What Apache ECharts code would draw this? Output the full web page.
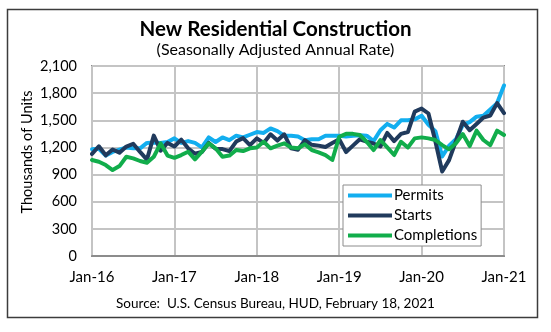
<!DOCTYPE html>
<html>
<head>
<meta charset="utf-8">
<script src="https://cdn.jsdelivr.net/npm/echarts@6/dist/echarts.min.js"></script>
<style>
  html, body { margin: 0; padding: 0; background: #ffffff; }
  #chart { width: 551px; height: 332px; }
</style>
</head>
<body>
<div id="chart"></div>
<script>
// Monthly series, Jan-2016 through Jan-2021 (thousands of units, SAAR)
const years = ['16', '17', '18', '19', '20', '21'];
const monthNames = ['Jan', 'Feb', 'Mar', 'Apr', 'May', 'Jun', 'Jul', 'Aug', 'Sep', 'Oct', 'Nov', 'Dec'];

const permits = [
  1180, 1185, 1110, 1150, 1175, 1200, 1190, 1190, 1250, 1255, 1250, 1260,
  1300, 1250, 1270, 1250, 1200, 1310, 1260, 1310, 1280, 1330, 1310, 1340,
  1370, 1360, 1410, 1380, 1330, 1330, 1320, 1280, 1290, 1290, 1330, 1330,
  1330, 1320, 1330, 1335, 1330, 1270, 1390, 1460, 1420, 1500, 1500, 1510,
  1550, 1450, 1380, 1100, 1220, 1290, 1450, 1480, 1540, 1550, 1620, 1690,
  1885
];
const starts = [
  1128, 1213, 1113, 1177, 1142, 1210, 1240, 1150, 1065, 1330, 1165, 1250,
  1210, 1286, 1190, 1130, 1150, 1250, 1185, 1182, 1160, 1265, 1303, 1225,
  1300, 1250, 1345, 1276, 1345, 1190, 1175, 1280, 1229, 1220, 1205, 1250,
  1290, 1149, 1220, 1290, 1265, 1243, 1210, 1360, 1270, 1350, 1370, 1595,
  1630, 1575, 1269, 934, 1060, 1270, 1484, 1390, 1459, 1530, 1553, 1690,
  1580
];
const completions = [
  1061, 1042, 1005, 950, 994, 1097, 1079, 1050, 1031, 1097, 1245, 1110,
  1085, 1116, 1153, 1068, 1153, 1245, 1190, 1097, 1110, 1171, 1160, 1190,
  1200, 1263, 1190, 1220, 1245, 1200, 1190, 1235, 1171, 1146, 1116, 1061,
  1318, 1350, 1350, 1337, 1263, 1171, 1282, 1200, 1116, 1263, 1200, 1300,
  1311, 1300, 1282, 1226, 1179, 1245, 1348, 1215, 1385, 1282, 1226, 1385,
  1337
];
const yTicks = { min: 0, max: 2100, step: 300 };

// Category labels "Jan-16" ... "Jan-21"
const months = [];
years.forEach((y, i) => {
  monthNames.forEach((m, j) => {
    if (i < years.length - 1 || j === 0) months.push(m + '-' + y);
  });
});

const baseFont = 'Lato, "Open Sans", "DejaVu Sans", sans-serif';
const chart = echarts.init(document.getElementById('chart'), null, { renderer: 'canvas' });

function lineSeries(name, data, color) {
  return {
    name: name,
    type: 'line',
    data: data,
    symbol: 'none',
    smooth: false,
    lineStyle: { color: color, width: 4, join: 'round', cap: 'round' },
    itemStyle: { color: color },
    emphasis: { disabled: true }
  };
}

chart.setOption({
  animation: false,
  backgroundColor: '#ffffff',
  grid: {
    left: 92, top: 66, right: 47, bottom: 76,
    show: true, borderColor: '#8c8c8c', borderWidth: 2, backgroundColor: 'transparent'
  },
  xAxis: {
    type: 'category',
    data: months,
    boundaryGap: false,
    axisLine: { show: true, lineStyle: { color: '#8c8c8c', width: 2 } },
    axisTick: { show: false },
    axisLabel: {
      interval: 11, margin: 14, color: '#000000',
      fontFamily: baseFont, fontSize: 15
    },
    splitLine: { show: true, interval: 11, lineStyle: { color: '#c4c4c4', width: 2 } }
  },
  yAxis: {
    type: 'value',
    min: yTicks.min, max: yTicks.max, interval: yTicks.step,
    axisLine: { show: false },
    axisTick: { show: false },
    axisLabel: {
      margin: 15, color: '#000000', fontFamily: baseFont, fontSize: 14.5,
      formatter: v => v.toLocaleString('en-US')
    },
    splitLine: { show: true, lineStyle: { color: '#c4c4c4', width: 2 } }
  },
  legend: {
    orient: 'vertical',
    left: 343, top: 185,
    padding: [2, 4, 2, 5],
    itemGap: 3,
    itemWidth: 44, itemHeight: 4,
    icon: 'rect',
    backgroundColor: '#ffffff',
    borderColor: '#8c8c8c', borderWidth: 1,
    textStyle: { fontFamily: baseFont, fontSize: 15, color: '#000000', lineHeight: 17, padding: [0, 0, 0, -3] },
    data: ['Permits', 'Starts', 'Completions']
  },
  series: [
    lineSeries('Permits', permits, '#12aeef'),
    lineSeries('Starts', starts, '#203a5c'),
    lineSeries('Completions', completions, '#11ad4b')
  ],
  graphic: [
    {
      type: 'rect', z: -10, silent: true,
      shape: { x: 7.5, y: 9.5, width: 530, height: 308 },
      style: { fill: 'none', stroke: '#3c3c3c', lineWidth: 1.5 }
    },
    {
      type: 'text', left: 'center', top: 19,
      style: { text: 'New Residential Construction', fill: '#000000',
               font: 'bold 20.5px ' + baseFont }
    },
    {
      type: 'text', left: 'center', top: 42,
      style: { text: '(Seasonally Adjusted Annual Rate)', fill: '#000000',
               font: '16px ' + baseFont }
    },
    {
      type: 'text', x: 27, y: 152, rotation: Math.PI / 2,
      style: { text: 'Thousands of Units', fill: '#000000', font: '14.5px ' + baseFont,
               textAlign: 'center', textVerticalAlign: 'middle' }
    },
    {
      type: 'text', left: 'center', top: 297,
      style: { text: 'Source:  U.S. Census Bureau, HUD, February 18, 2021', fill: '#000000',
               font: '13.5px ' + baseFont }
    }
  ]
});
</script>
</body>
</html>
